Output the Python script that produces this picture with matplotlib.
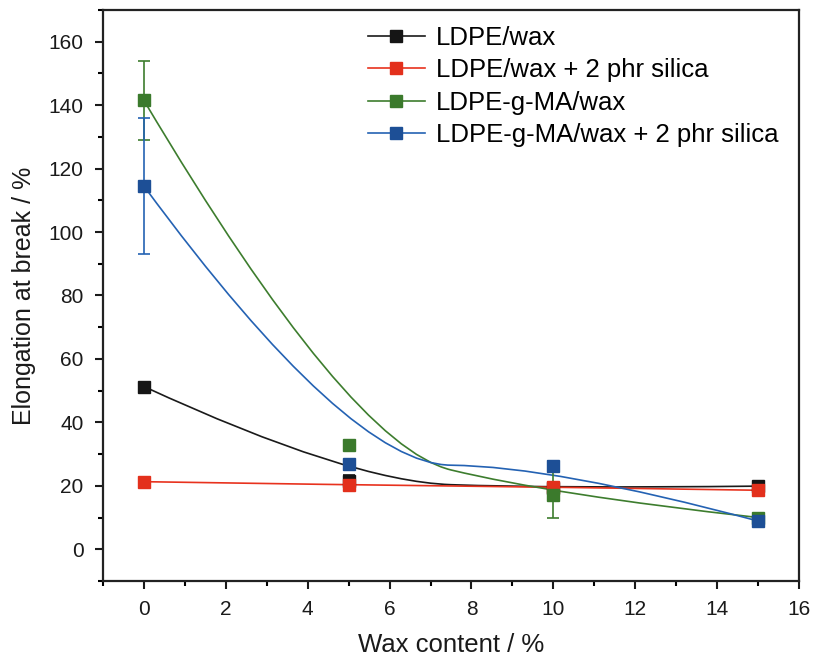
import numpy as np
import matplotlib
matplotlib.use("Agg")
import matplotlib.pyplot as plt
from matplotlib.path import Path
from matplotlib.patches import PathPatch
from matplotlib.lines import Line2D
from matplotlib.ticker import MultipleLocator

plt.rcParams["font.family"] = ["Liberation Sans", "DejaVu Sans"]

wax = [0, 5, 10, 15]
labels = ["LDPE/wax", "LDPE/wax + 2 phr silica", "LDPE-g-MA/wax", "LDPE-g-MA/wax + 2 phr silica"]
ldpe = [51.3, 21.5, 19.2, 19.9]
ldpe_err = [1.0, 2.0, 1.0, 1.2]
ldpe_si = [21.3, 20.3, 19.6, 18.6]
ldpe_si_err = [0.8, 1.5, 1.5, 1.2]
ma = [141.5, 32.8, 17.2, 10.0]
ma_err = [12.5, 1.0, 7.5, 1.0]
ma_si = [114.5, 26.8, 26.2, 8.9]
ma_si_err = [21.5, 1.0, 1.5, 1.0]

series = [ldpe, ldpe_si, ma, ma_si]
errors = [ldpe_err, ldpe_si_err, ma_err, ma_si_err]
colors = ["#1a1a1a", "#e8321e", "#3d7d2e", "#2462b3"]
mcolors = ["#151515", "#e3301c", "#3b7a2c", "#1d4f96"]

fig = plt.figure(figsize=(8.14, 6.59), dpi=100)
ax = fig.add_axes([0.1265, 0.1184, 0.8551, 0.8664])

for y, e, c, mc in zip(series, errors, colors, mcolors):
    # quadratic B-spline with the data points as control points (Origin style)
    mid = ((wax[1] + wax[2]) / 2, (y[1] + y[2]) / 2)
    verts = [(wax[0], y[0]), (wax[1], y[1]), mid, (wax[2], y[2]), (wax[3], y[3])]
    codes = [Path.MOVETO, Path.CURVE3, Path.CURVE3, Path.CURVE3, Path.CURVE3]
    ax.add_patch(PathPatch(Path(verts, codes), fill=False, edgecolor=c, lw=1.2, zorder=2))
    ax.errorbar(wax, y, yerr=e, fmt="s", color=c, mfc=mc, mec=mc, ms=8,
                ecolor=c, elinewidth=1.2, capsize=4.5, capthick=1.2, zorder=3)

ax.set_xlim(-1, 16)
ax.set_ylim(-10, 170)
ax.xaxis.set_major_locator(MultipleLocator(2))
ax.xaxis.set_minor_locator(MultipleLocator(1))
ax.yaxis.set_major_locator(MultipleLocator(20))
ax.yaxis.set_minor_locator(MultipleLocator(10))
ax.set_yticks(np.arange(0, 161, 20))
ax.tick_params(which="major", direction="out", length=6, width=1.5, labelsize=15, colors="#1a1a1a")
ax.tick_params(axis="x", which="major", pad=8)
ax.tick_params(axis="y", which="major", pad=8)
ax.tick_params(which="minor", direction="out", length=3.5, width=1.5)
for s in ax.spines.values():
    s.set_linewidth(1.6)
    s.set_color("#222222")

ax.set_xlabel("Wax content / %", fontsize=18.5, labelpad=10, color="#1a1a1a")
ax.set_ylabel("Elongation at break / %", fontsize=18, labelpad=9, color="#1a1a1a")

handles = [Line2D([], [], color=c, marker="s", mfc=mc, mec=mc, ms=8, lw=1.2)
           for c, mc in zip(colors, mcolors)]
ax.legend(handles, labels, loc="upper left", bbox_to_anchor=(0.358, 1.0), frameon=False,
          fontsize=18.5, handlelength=2.2, handletextpad=0.45, labelspacing=0.33, borderaxespad=0.22)

fig.savefig("out.png", dpi=100)
